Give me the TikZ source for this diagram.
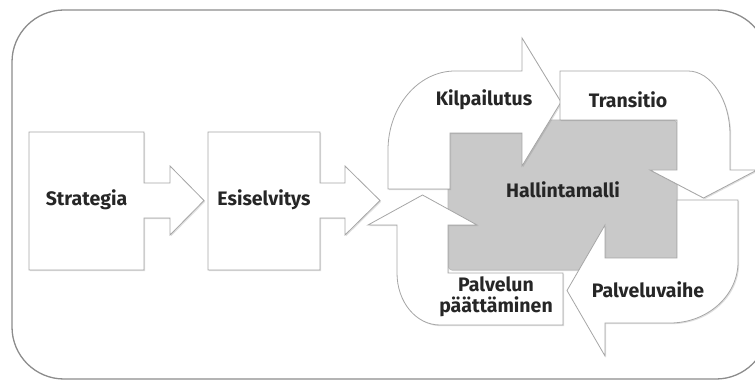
\documentclass[tikz,border=0pt]{standalone}
\usepackage{fontspec}
\setmainfont{Fira Sans}
\usetikzlibrary{shadows}
\begin{document}
\begin{tikzpicture}[x=1pt,y=-1pt,
  frame/.style={draw=gray!90, line width=1.3pt, rounded corners=52pt},
  shp/.style={draw=gray!70, line width=0.8pt, fill=white, line join=miter,
    drop shadow={opacity=0.25, shadow xshift=1.2pt, shadow yshift=-1.2pt}},
  core/.style={draw=gray!55, line width=0.6pt, fill=gray!42, rounded corners=4pt,
    drop shadow={opacity=0.25, shadow xshift=1.2pt, shadow yshift=-1.2pt}},
  lbl/.style={font=\bfseries\fontsize{19.5}{21}\selectfont, text=black!85, inner sep=0pt, align=center}]
\useasboundingbox (0,0) rectangle (755,382);
% outer frame
\draw[frame] (12,10) rectangle (768,379);
% Strategia and Esiselvitys
\path[shp] (29,132) -- (144,132) -- (144,183) -- (170,183) -- (170,166) -- (204,200.5)
  -- (170,235) -- (170,218) -- (144,218) -- (144,270) -- (29,270) -- cycle;
\path[shp] (208,132) -- (320,132) -- (320,183) -- (345,183) -- (345,166) -- (380,200.5)
  -- (345,235) -- (345,218) -- (320,218) -- (320,270) -- (208,270) -- cycle;
% centre
\path[core] (448,120) rectangle (677,270);
% Kilpailutus
\path[shp] (388,189) -- (388,150) .. controls (388,107) and (418,71) .. (455,71)
  -- (522,71) -- (522,38) -- (561,102) -- (522,166) -- (522,133) -- (450,133)
  -- (450,189) -- cycle;
% Transitio
\path[shp] (560,71) -- (688,71) .. controls (711,71) and (730,100) .. (730,135)
  -- (730,170) -- (757,170) -- (703.5,198) -- (650,170) -- (677,170)
  -- (677,120) -- (560,120) -- cycle;
% Palveluvaihe
\path[shp] (677,200) -- (738,200) -- (738,262) .. controls (738,296) and (707,323) .. (670,323)
  -- (605,323) -- (605,356) -- (567,290.5) -- (605,225) -- (605,258) -- (677,258) -- cycle;
% Palvelun paattaminen
\path[shp] (563,273) -- (563,325) -- (440,325) .. controls (416,325) and (397,302) .. (397,273)
  -- (397,225) -- (368,225) -- (422.5,195) -- (477,225) -- (448,225) -- (448,273) -- cycle;
% labels
\node[lbl] (strategia) at (86.5,200) {Strategia};
\node[lbl] (esiselvitys) at (264,200) {Esiselvitys};
\node[lbl] (kilpailutus) at (484,100) {Kilpailutus};
\node[lbl] (transitio) at (628,100) {Transitio};
\node[lbl] (hallinta) at (563,190) {Hallintamalli};
\node[lbl] (palveluvaihe) at (648,290) {Palveluvaihe};
\node[lbl] (paattaminen) at (496,297) {Palvelun\\päättäminen};
\end{tikzpicture}
\end{document}
